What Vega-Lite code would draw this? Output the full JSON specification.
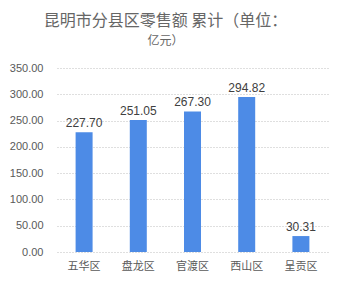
{
  "$schema": "https://vega.github.io/schema/vega-lite/v6.json",
  "autosize": "none",
  "width": 271,
  "height": 184,
  "padding": {"left": 57, "top": 68, "right": 16, "bottom": 33},
  "background": "white",
  "title": {
    "text": "昆明市分县区零售额 累计（单位：",
    "subtitle": "亿元）",
    "anchor": "middle",
    "frame": "group",
    "dx": -27,
    "offset": 15,
    "font": "Noto Sans CJK SC",
    "fontSize": 16,
    "fontWeight": "normal",
    "color": "#666666",
    "subtitleFont": "Noto Sans CJK SC",
    "subtitleFontSize": 12,
    "subtitleColor": "#666666",
    "subtitlePadding": 7
  },
  "data": {
    "values": [
      {"district": "五华区", "value": 227.70},
      {"district": "盘龙区", "value": 251.05},
      {"district": "官渡区", "value": 267.30},
      {"district": "西山区", "value": 294.82},
      {"district": "呈贡区", "value": 30.31}
    ]
  },
  "encoding": {
    "x": {
      "field": "district",
      "type": "nominal",
      "sort": null,
      "title": null,
      "axis": {
        "labelAngle": 0,
        "labelFont": "Noto Sans CJK SC",
        "labelFontSize": 11,
        "labelColor": "#595959",
        "labelPadding": 8,
        "ticks": false,
        "domain": false,
        "grid": false
      }
    },
    "y": {
      "field": "value",
      "type": "quantitative",
      "title": null,
      "scale": {"domain": [0, 350]},
      "axis": {
        "values": [0, 50, 100, 150, 200, 250, 300, 350],
        "format": ".2f",
        "labelFont": "Liberation Sans",
        "labelFontSize": 11,
        "labelColor": "#595959",
        "labelPadding": 14,
        "ticks": false,
        "domain": false,
        "grid": true,
        "gridColor": "#bfbfbf",
        "gridDash": [1, 2]
      }
    }
  },
  "layer": [
    {"mark": {"type": "bar", "size": 17, "color": "#4d8be6"}},
    {
      "mark": {"type": "text", "dy": -9, "font": "Liberation Sans", "fontSize": 12, "color": "#404040"},
      "encoding": {"text": {"field": "value", "type": "quantitative", "format": ".2f"}}
    }
  ],
  "config": {"view": {"stroke": null}}
}
